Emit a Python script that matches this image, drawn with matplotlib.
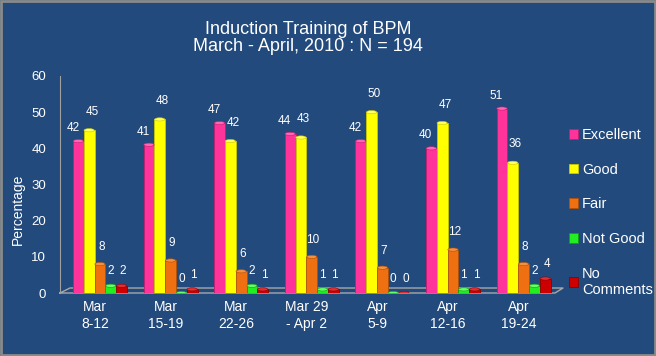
import matplotlib
matplotlib.use("Agg")
from matplotlib import pyplot as plt
from matplotlib.patches import Rectangle, Ellipse

plt.rcParams['font.family'] = ['Liberation Sans', 'DejaVu Sans']

# data
weeks = ["Mar\n8-12", "Mar\n15-19", "Mar\n22-26", "Mar 29\n- Apr 2", "Apr\n5-9", "Apr\n12-16", "Apr\n19-24"]
series = ["Excellent", "Good", "Fair", "Not Good", "No\nComments"]
excellent = [42, 41, 47, 44, 42, 40, 51]
good = [45, 48, 42, 43, 50, 47, 36]
fair = [8, 9, 6, 10, 7, 12, 8]
not_good = [2, 0, 2, 1, 0, 1, 2]
no_comments = [2, 1, 1, 1, 0, 1, 4]

colors = ["#FF3399", "#FFFF00", "#EE7010", "#22EE22", "#CC0000"]
tops = ["#FF66B3", "#FFFF66", "#F59040", "#66FF66", "#E03030"]
edges = ["#C0206F", "#C8C800", "#B05008", "#10A010", "#900000"]
bg = "#234A7C"
# label offsets (points) per series, mimicking the 3D label placement
lab_dx = [-4, 2, 1, 0, 1]
lab_dy = [5, 9, 8, 6, 6]

fig = plt.figure(figsize=(6.56, 3.56), dpi=100, facecolor=bg)
ax = fig.add_axes([60/656, 1-293/356, 500/656, 217/356])
ax.set_facecolor(bg)

w = 0.153
shift = 0.07
for k, vals in enumerate([excellent, good, fair, not_good, no_comments]):
    xs = [i + (k - 2) * w + shift for i in range(len(weeks))]
    ax.bar(xs, vals, width=w, color=colors[k], edgecolor=edges[k], linewidth=0.6,
           label=series[k], zorder=3)
    for x, v in zip(xs, vals):
        ax.add_patch(Ellipse((x, v), w * 0.95, 0.9, facecolor=tops[k],
                             edgecolor=edges[k], linewidth=0.4, zorder=4))
        ax.annotate(str(v), (x, v), xytext=(lab_dx[k], lab_dy[k]), textcoords="offset points",
                    ha="center", va="bottom", color="white", fontsize=8.5, zorder=5)

ax.set_xlim(-0.496, 6.586)
ax.set_ylim(0, 60)
ax.set_yticks(range(0, 61, 10))
ax.set_xticks(range(len(weeks)))
ax.set_xticklabels(weeks, linespacing=1.3)
ax.tick_params(axis="both", length=0, colors="white", labelsize=9.5)
ax.tick_params(axis="y", pad=10)
ax.tick_params(axis="x", pad=5, labelsize=10)
for s in ["top", "right", "bottom"]:
    ax.spines[s].set_visible(False)
ax.spines["left"].set_color("#A0A0A0")

# floor
fx = [0, 0.99, 1.006, 0.02, 0]
fy = [0, 0, 0.023, 0.023, 0]
ax.plot(fx, fy, transform=ax.transAxes, color="#A8A8A8", lw=1, clip_on=False, zorder=2)

fig.text(18/656, 1-209/356, "Percentage", rotation=90, color="white",
         fontsize=10, ha="center", va="center")
fig.text(308/656, 1-38/356, "Induction Training of BPM\nMarch - April, 2010 : N = 194",
         color="white", fontsize=13, ha="center", va="center", linespacing=1.05)

leg = fig.legend(loc="upper left", bbox_to_anchor=(563/656, 1-122/356), frameon=False,
                 fontsize=10.5, handlelength=0.65, handleheight=0.65, handletextpad=0.25,
                 labelspacing=1.42, borderaxespad=0)
for t in leg.get_texts():
    t.set_color("white")

fig.add_artist(Rectangle((0.002, 0.003), 0.996, 0.994, transform=fig.transFigure,
                         fill=False, edgecolor="#8A8A8A", linewidth=2))

fig.savefig("out.png", dpi=100, facecolor=bg)
